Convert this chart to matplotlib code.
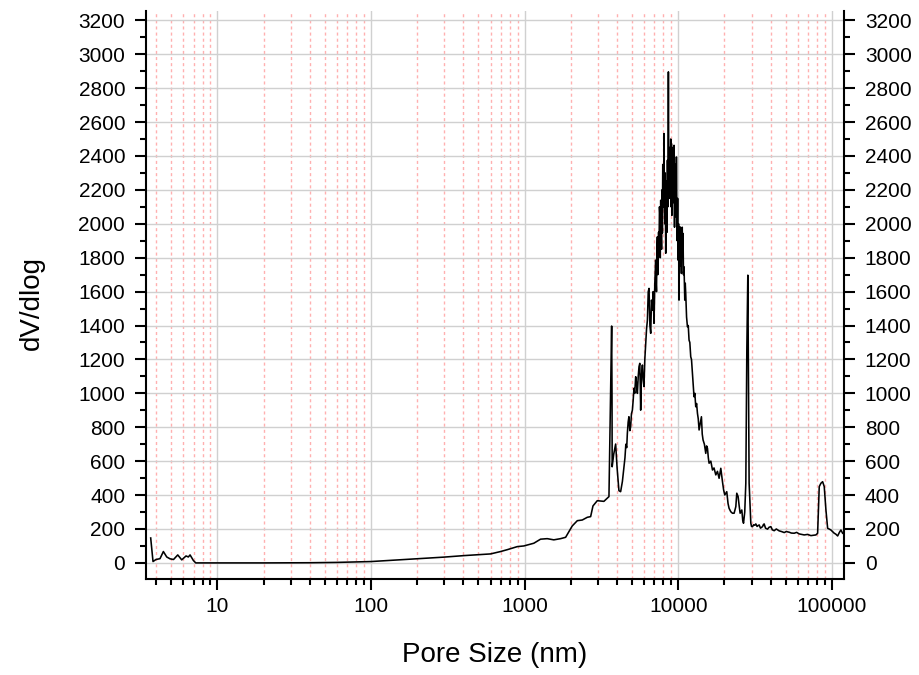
import matplotlib
matplotlib.use("Agg")
import matplotlib.pyplot as plt
from matplotlib.ticker import LogLocator, FixedLocator, MultipleLocator, NullFormatter

plt.rcParams['font.family'] = ['Liberation Sans', 'DejaVu Sans']

# ---- data (pore size in nm, dV/dlog) ----
left_x = [3.68, 3.81, 3.98, 4.23, 4.45, 4.68, 4.92, 5.18, 5.52, 5.86, 6.25, 6.47, 6.64, 6.98, 7.23]
left_y = [147, 8, 20, 25, 67, 35, 24, 20, 47, 18, 41, 35, 47, 14, 0]

mid_x = [10, 20, 40, 60, 85, 100, 180, 297, 402, 600, 697, 771, 895, 988, 1148, 1270, 1403,
         1549, 1714, 1849, 1941, 2042, 2203, 2373, 2559, 2690, 2786, 2972, 3281, 3540]
mid_y = [0, 0, 1, 3, 6, 8, 22, 34, 43, 53, 67, 78, 96, 100, 116, 140, 143,
         136, 143, 151, 184, 218, 249, 253, 269, 273, 336, 367, 363, 391]

peak_x = [
    3686, 3707, 3715, 3800, 3914, 4000, 4111, 4217, 4330, 4434,
    4500, 4560, 4620, 4664, 4720, 4775, 4840, 4900, 4960, 5030,
    5090, 5150, 5210, 5285, 5350, 5420, 5490, 5553, 5620, 5660,
    5695, 5760, 5845, 5910, 5985, 6060, 6140, 6220, 6300, 6380,
    6455, 6540, 6620, 6700, 6790, 6870, 6955, 7040, 7130, 7180,
    7220, 7270, 7315, 7360, 7400, 7450, 7500, 7550, 7600, 7640,
    7690, 7740, 7790, 7840, 7885, 7930, 7980, 8030, 8080, 8130,
    8180, 8230, 8290, 8340, 8400, 8450, 8505, 8560, 8630, 8680,
    8740, 8790, 8845, 8890, 8940, 8985, 9030, 9070, 9100, 9140,
    9170, 9220, 9280, 9330, 9390, 9430, 9460, 9500, 9530, 9580,
    9630, 9680, 9730, 9790, 9850, 9910, 9970, 10050, 10120, 10200,
    10270, 10330, 10380, 10430, 10490, 10550, 10620, 10680, 10740, 10820,
    10910, 10970, 11030, 11110, 11190, 11330, 11480, 11620, 11760, 11900,
    12060, 12200, 12370, 12520, 12670, 12830, 13000, 13170, 13340, 13500,
    13670, 13900, 14160, 14330, 14510, 14800, 15110, 15300, 15500, 15700,
    15880, 16300, 16710, 17100, 17560, 18000, 18450, 18930, 19410, 19750,
    20090, 20700, 21100, 21430, 21980, 22540, 23110, 23710, 24050, 24540,
    24900, 25290, 25940, 26300, 26610, 27100, 27540, 27960, 28380, 28940,
]
peak_y = [
    1397, 980, 567, 640, 701, 560, 426, 420, 480, 567,
    620, 700, 680, 764, 830, 862, 780, 803, 880, 901,
    960, 1030, 1000, 1098, 1060, 1000, 1100, 1157, 1177, 1050,
    901, 1100, 1167, 1080, 1040, 1200, 1295, 1380, 1432, 1600,
    1619, 1400, 1354, 1550, 1491, 1600, 1413, 1650, 1786, 1650,
    1600, 1850, 1923, 1700, 1750, 1950, 1864, 2100, 2050, 1800,
    2139, 1950, 1850, 2200, 1945, 2350, 2300, 2100, 2532, 2100,
    2000, 2300, 1826, 2200, 2250, 1950, 2375, 2100, 2896, 2300,
    2150, 2450, 2179, 2350, 2500, 2100, 2473, 2200, 2050, 2350,
    2120, 2450, 2400, 2150, 2463, 2200, 1980, 2250, 2041, 2350,
    2300, 2050, 2394, 2100, 1900, 2150, 1786, 2000, 1550, 1900,
    1982, 1800, 1750, 1950, 1707, 1900, 1980, 1800, 1943, 1700,
    1746, 1650, 1550, 1650, 1589, 1450, 1393, 1400, 1314, 1300,
    1216, 1200, 1118, 1050, 980, 1000, 921, 940, 882, 850,
    784, 820, 862, 760, 725, 700, 646, 690, 676, 620,
    588, 600, 548, 560, 519, 540, 499, 558, 479, 430,
    401, 420, 350, 322, 302, 293, 293, 332, 411, 391,
    340, 293, 312, 250, 234, 300, 470, 1255, 1697, 470,
]

tail_x = [
    29690, 30000, 30460, 31000, 31500, 32000, 32600, 33100, 33650, 34300,
    35400, 35800, 36250, 37000, 38150, 39000, 40090, 41000, 42130, 43500,
    45400, 47000, 48980, 50500, 52760, 54500, 56880, 59000, 61310, 63500,
    66070, 69500, 73080, 76000, 78750, 80800, 82780, 84920, 87100, 89230,
    91520, 93890, 96000, 98630, 101000, 103650, 106000, 109100, 112000, 114600,
    117500,
]
tail_y = [
    234, 215, 214, 225, 222, 230, 215, 220, 224, 205,
    214, 225, 230, 205, 199, 210, 214, 195, 190, 200,
    189, 185, 179, 185, 181, 176, 175, 180, 171, 168,
    165, 168, 161, 163, 165, 175, 450, 470, 479, 450,
    312, 204, 200, 194, 185, 175, 170, 159, 180, 194,
    175,
]

pore_size = left_x + mid_x + peak_x + tail_x
dv_dlog = left_y + mid_y + peak_y + tail_y

y_ticks = list(range(0, 3201, 200))
x_tick_values = [10, 100, 1000, 10000, 100000]
x_tick_labels = ["10", "100", "1000", "10000", "100000"]

fig = plt.figure(figsize=(9.2, 6.75), dpi=100)
ax = fig.add_axes([0.1587, 0.1422, 0.7587, 0.8415])

ax.plot(pore_size, dv_dlog, color='black', linewidth=1.15, zorder=3)

ax.set_xscale('log')
ax.set_xlim(3.43, 120000)
ax.set_ylim(-95, 3255)

ax.xaxis.set_major_locator(FixedLocator(x_tick_values))
ax.set_xticklabels(x_tick_labels)
ax.xaxis.set_minor_locator(LogLocator(base=10, subs=[2, 3, 4, 5, 6, 7, 8, 9], numticks=20))
ax.xaxis.set_minor_formatter(NullFormatter())
ax.yaxis.set_major_locator(FixedLocator(y_ticks))
ax.yaxis.set_minor_locator(MultipleLocator(100))

ax.grid(which='major', axis='both', color='#d0d0d0', linewidth=1.0, linestyle='-', zorder=0)
ax.grid(which='minor', axis='x', color='#ffb0b0', linewidth=1.0, linestyle=(0, (2.2, 2.2)), zorder=0)
ax.set_axisbelow(True)

ax.spines['top'].set_visible(False)
for s in ['left', 'right', 'bottom']:
    ax.spines[s].set_linewidth(1.5)

ax.tick_params(which='major', direction='out', length=8, width=1.5, labelsize=15,
               left=True, right=True, labelleft=True, labelright=True, bottom=True, top=False)
ax.tick_params(which='minor', direction='out', length=4.3, width=1.5,
               left=True, right=True, bottom=True, top=False)
ax.tick_params(axis='y', which='major', pad=7)
ax.tick_params(axis='x', which='major', pad=5)

ax.set_xlabel('Pore Size (nm)', fontsize=20, labelpad=19)
ax.set_ylabel('dV/dlog', fontsize=20, labelpad=24)
ax.yaxis.label.set_y(0.486)

fig.savefig('out.png', dpi=100)
